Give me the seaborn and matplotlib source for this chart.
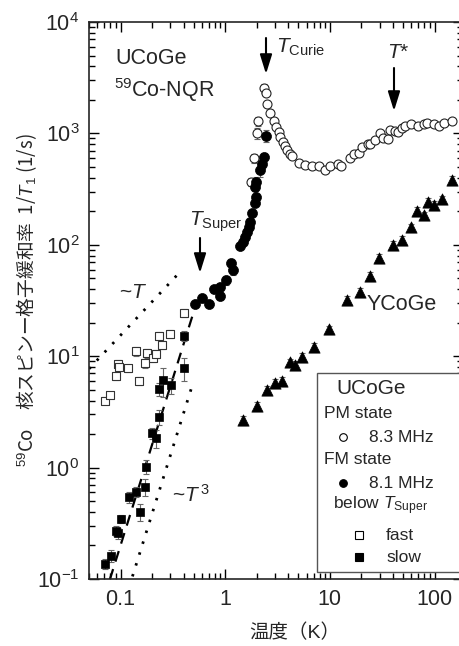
import numpy as np
import pandas as pd
import matplotlib
matplotlib.use("Agg")
import matplotlib.pyplot as plt
from matplotlib.lines import Line2D
from matplotlib.patches import Rectangle, FancyArrowPatch
from matplotlib.ticker import FixedLocator, LogLocator, NullFormatter, LogFormatterMathtext
import seaborn as sns

# ---- UCoGe, paramagnetic state (8.3 MHz line) ----
pm_T = [1.76, 1.90, 2.01, 2.04, 2.33, 2.45, 2.50, 2.70, 2.90, 3.08, 3.24, 3.37, 3.54, 3.70,
        3.90, 4.12, 4.35, 5.03, 5.83, 6.75, 7.8, 9.0, 10.0, 11.9, 12.8, 15.5, 17.0, 18.9,
        20.3, 23.0, 24.4, 27.0, 30.0, 31.9, 35.9, 37.5, 41.6, 44.5, 48.4, 52.0, 59.5,
        69.6, 78.8, 85.0, 98.0, 110.0, 122.0, 147.0]
pm_R = [370, 600, 1000, 1280, 2550, 2300, 1840, 1520, 1280, 1150, 1040, 935, 845, 775,
        710, 660, 625, 545, 523, 510, 505, 470, 515, 535, 505, 600, 655, 670,
        750, 810, 800, 880, 1000, 905, 890, 1075, 1050, 1040, 1110, 1160, 1215,
        1170, 1215, 1235, 1215, 1160, 1250, 1300]
pm_err = [30, 60, 110, 120, 250, 0, 0, 0, 0, 0, 0, 0, 0, 0,
          0, 0, 0, 0, 0, 0, 0, 0, 0, 0, 0, 0, 0, 0,
          0, 0, 0, 0, 0, 0, 0, 0, 0, 0, 0, 0, 0,
          0, 0, 0, 0, 0, 0, 0]

# ---- UCoGe, ferromagnetic state (8.1 MHz line) ----
fm_T = [0.51, 0.606, 0.70, 0.79, 0.896, 0.90, 1.02, 1.13, 1.20, 1.39, 1.48, 1.55, 1.61,
        1.67, 1.73, 1.80, 1.94, 1.98, 1.94, 1.98, 2.13, 2.24, 2.33, 2.47]
fm_R = [29.5, 33, 29.5, 40, 42, 34.7, 48, 68, 59, 98, 107, 118, 131,
        145, 161, 192, 236, 271, 333, 369, 470, 530, 613, 950]
fm_err = [2, 2, 2, 3, 3, 3, 4, 7, 5, 6, 6, 7, 8,
          9, 10, 12, 14, 16, 30, 35, 60, 55, 60, 120]

# ---- below T_Super: fast and slow components ----
fast_T = [0.071, 0.080, 0.091, 0.094, 0.097, 0.118, 0.140, 0.151, 0.172, 0.180,
          0.203, 0.220, 0.232, 0.248, 0.300, 0.400]
fast_R = [4.0, 4.5, 6.6, 8.5, 8.0, 7.8, 11.1, 6.0, 8.6, 10.6,
          9.6, 10.5, 15.2, 12.7, 15.9, 24.5]
fast_err = [0.3, 0.3, 0.5, 0.8, 0.6, 0.6, 1.0, 0.5, 0.7, 0.9,
            0.8, 0.9, 1.2, 1.0, 1.2, 2.0]

slow_T = [0.071, 0.082, 0.091, 0.095, 0.100, 0.121, 0.142, 0.155, 0.171, 0.177,
          0.201, 0.220, 0.233, 0.233, 0.252, 0.305, 0.400, 0.400]
slow_R = [0.137, 0.162, 0.272, 0.257, 0.346, 0.54, 0.61, 0.40, 0.675, 1.02,
          2.04, 1.84, 2.87, 5.1, 6.1, 5.5, 7.8, 15.3]
slow_err = [0.015, 0.02, 0.03, 0.03, 0.03, 0.06, 0.06, 0.07, 0.12, 0.15,
            0.25, 0.35, 0.45, 0.7, 1.8, 0.9, 1.8, 1.5]

# ---- YCoGe reference compound ----
y_T = [1.48, 2.01, 2.5, 3.0, 3.49, 4.18, 4.67, 5.42, 7.0, 9.9, 14.6, 19.3, 24.3,
       29.4, 39.9, 49.0, 59.6, 68.4, 79.3, 86.9, 98.5, 118.5, 147.6]
y_R = [2.68, 3.6, 4.98, 5.8, 6.0, 8.8, 8.35, 9.8, 12.2, 17.4, 32, 38, 52.6,
       76, 100, 111, 143, 203, 185, 244, 228, 257, 383]
y_err = [0.25, 0.3, 0.4, 0.5, 0.5, 0.7, 0.7, 0.8, 1.0, 1.4, 2.5, 3, 4,
         6, 8, 9, 11, 15, 14, 18, 18, 20, 30]

# ---- power-law guides: (prefactor, exponent, T_start, T_end) ----
guide_T1 = (154.0, 1.0, 0.05, 0.39)     # ~T
guide_T3 = (48.0, 3.0, 0.13, 0.49)      # ~T^3 (dotted)
fit_T3 = (200.0, 3.0, 0.079, 0.50)      # fit to slow component (dashed)

W, H = 460, 646
sns.set_style("ticks")
plt.rcParams["font.family"] = ["Liberation Sans", "Noto Sans CJK JP", "DejaVu Sans"]
plt.rcParams["mathtext.fontset"] = "custom"
plt.rcParams["mathtext.rm"] = "Liberation Sans"
plt.rcParams["mathtext.it"] = "Liberation Sans:italic"
plt.rcParams["mathtext.bf"] = "Liberation Sans:bold"

fig = plt.figure(figsize=(W / 100, H / 100), dpi=100)
ax_l, ax_r, ax_t, ax_b = 89, 463, 22, 579
ax = fig.add_axes([ax_l / W, 1 - ax_b / H, (ax_r - ax_l) / W, (ax_b - ax_t) / H])
ax.set_xscale("log")
ax.set_yscale("log")
ax.set_xlim(0.05, 187)
ax.set_ylim(0.1, 1e4)


def fpos(px, py):
    return px / W, 1 - py / H


def guide(params, style, lw):
    a, n, t0, t1 = params
    t = np.logspace(np.log10(t0), np.log10(t1), 60)
    ax.plot(t, a * t ** n, color="black", lw=lw, linestyle=style, zorder=1)


guide(guide_T1, (0, (0.9, 3.2)), 2.0)
guide(guide_T3, (0, (0.9, 3.2)), 2.0)
guide(fit_T3, (0, (5, 3.5)), 1.6)

ecol = "#666666"
for T, R, E in [(pm_T, pm_R, pm_err), (fm_T, fm_R, fm_err), (fast_T, fast_R, fast_err),
                (slow_T, slow_R, slow_err), (y_T, y_R, y_err)]:
    ax.errorbar(T, R, yerr=E, fmt="none", ecolor=ecol, elinewidth=0.8,
                capsize=2.5, capthick=0.8, zorder=2)

pm = pd.DataFrame({"T": pm_T, "R": pm_R})
fm = pd.DataFrame({"T": fm_T, "R": fm_R})
fast = pd.DataFrame({"T": fast_T, "R": fast_R})
slow = pd.DataFrame({"T": slow_T, "R": slow_R})
yco = pd.DataFrame({"T": y_T, "R": y_R})

sns.scatterplot(data=pm, x="T", y="R", marker="o", s=42, color="white",
                edgecolor="#222222", linewidth=0.8, ax=ax, zorder=3)
sns.scatterplot(data=fm, x="T", y="R", marker="o", s=52, color="black",
                edgecolor="black", linewidth=0.5, ax=ax, zorder=4)
sns.scatterplot(data=fast, x="T", y="R", marker="s", s=38, color="white",
                edgecolor="#333333", linewidth=0.8, ax=ax, zorder=3)
sns.scatterplot(data=slow, x="T", y="R", marker="s", s=40, color="black",
                edgecolor="black", linewidth=0.5, ax=ax, zorder=4)
sns.scatterplot(data=yco, x="T", y="R", marker="^", s=66, color="black",
                edgecolor="black", linewidth=0.5, ax=ax, zorder=4)

# axes styling
for sp in ax.spines.values():
    sp.set_linewidth(1.2)
ax.xaxis.set_major_locator(FixedLocator([0.1, 1, 10, 100]))
ax.set_xticklabels(["0.1", "1", "10", "100"])
ax.xaxis.set_minor_locator(LogLocator(base=10, subs=np.arange(2, 10), numticks=20))
ax.xaxis.set_minor_formatter(NullFormatter())
ax.yaxis.set_major_locator(FixedLocator([0.1, 1, 10, 100, 1000, 10000]))
ax.yaxis.set_major_formatter(LogFormatterMathtext())
ax.yaxis.set_minor_locator(LogLocator(base=10, subs=np.arange(2, 10), numticks=20))
ax.yaxis.set_minor_formatter(NullFormatter())
ax.tick_params(which="both", direction="in", top=True, right=True, width=1.0, color="black")
ax.tick_params(which="major", length=7, labelsize=15.5, pad=7)
ax.tick_params(which="minor", length=4)

ax.set_xlabel("温度（K）", fontsize=14)
ax.xaxis.set_label_coords((295 - ax_l) / (ax_r - ax_l), -(635 - ax_b) / (ax_b - ax_t) + 0.02)

# the non-math part of the label takes the Japanese family, the italic T the math font
ax.set_ylabel("$^{59}$Co\u3000核スピンー格子緩和率  1/$T_{1}$ (1/s)", fontsize=13.5,
              family="Noto Sans CJK JP")
ax.yaxis.set_label_coords(-(89 - 39) / (ax_r - ax_l), 0.5)

# annotations
fs = 15.5
fig.text(*fpos(115, 58), "UCoGe", fontsize=fs, ha="left", va="center")
fig.text(*fpos(114, 90), "$^{59}$Co-NQR", fontsize=fs, ha="left", va="center")
fig.text(*fpos(276, 47), r"$T_{\mathrm{Curie}}$", fontsize=15, ha="left", va="center")
fig.text(*fpos(398, 53), "$T$*", fontsize=15, ha="center", va="center")
fig.text(*fpos(189, 222), r"$T_{\mathrm{Super}}$", fontsize=15, ha="left", va="center")
fig.text(*fpos(119, 293), "~$T$", fontsize=15, ha="left", va="center")
fig.text(*fpos(172, 495), "~$T^{\\,3}$", fontsize=15, ha="left", va="center")
fig.text(*fpos(367, 304), "YCoGe", fontsize=fs, ha="left", va="center")

for x, y0, y1 in [(266, 38, 74), (394, 68, 111), (200, 238, 273)]:
    fig.add_artist(FancyArrowPatch(fpos(x, y0), fpos(x, y1), transform=fig.transFigure,
                                   arrowstyle="-|>,head_length=0.9,head_width=0.28",
                                   mutation_scale=13, color="black", lw=1.5,
                                   shrinkA=0, shrinkB=0))

# legend box
lx0, ly0, lx1, ly1 = 317, 373, 470, 572
fig.add_artist(Rectangle(fpos(lx0, ly1), (lx1 - lx0) / W, (ly1 - ly0) / H,
                         transform=fig.transFigure, facecolor="white",
                         edgecolor="#555555", lw=1.0, zorder=5))
lfs = 12.5
fig.text(*fpos(336, 388), "UCoGe", fontsize=15, ha="left", va="center", zorder=6)
fig.text(*fpos(324, 413), "PM state", fontsize=lfs, ha="left", va="center", zorder=6)
fig.text(*fpos(369, 437), "8.3 MHz", fontsize=lfs, ha="left", va="center", zorder=6)
fig.text(*fpos(324, 460), "FM state", fontsize=lfs, ha="left", va="center", zorder=6)
fig.text(*fpos(369, 483), "8.1 MHz", fontsize=lfs, ha="left", va="center", zorder=6)
fig.text(*fpos(333, 506), r"below $T_{\mathrm{Super}}$", fontsize=lfs, ha="left", va="center", zorder=6)
fig.text(*fpos(386, 535), "fast", fontsize=lfs, ha="left", va="center", zorder=6)
fig.text(*fpos(386, 558), "slow", fontsize=lfs, ha="left", va="center", zorder=6)
for (px, py), mk, fc, ms in [((343, 437), "o", "white", 5.5), ((343, 483), "o", "black", 5.5),
                             ((359, 535), "s", "white", 5.5), ((359, 557), "s", "black", 5.5)]:
    fx, fy = fpos(px, py)
    fig.add_artist(Line2D([fx], [fy], transform=fig.transFigure, marker=mk, ms=ms,
                          mfc=fc, mec="black", mew=0.8, linestyle="none", zorder=6))

fig.savefig("out.png", dpi=100)
